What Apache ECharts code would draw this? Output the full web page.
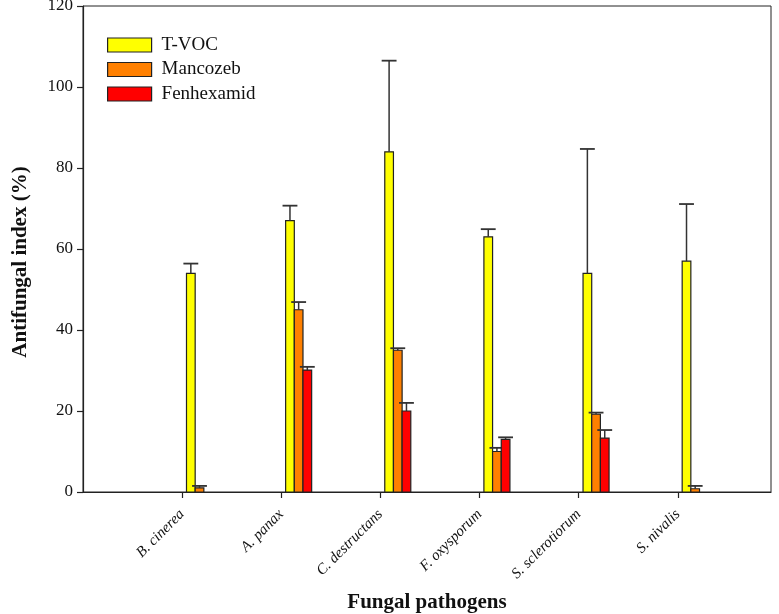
<!DOCTYPE html>
<html>
<head>
<meta charset="utf-8">
<script src="https://cdn.jsdelivr.net/npm/echarts@6/dist/echarts.min.js"></script>
<style>html,body{margin:0;padding:0;background:#fff}#c{width:779px;height:614px}</style>
</head>
<body>
<div id="c"></div>
<script>
const categories = ['B. cinerea', 'A. panax', 'C. destructans', 'F. oxysporum', 'S. sclerotiorum', 'S. nivalis'];
const seriesNames = ['T-VOC', 'Mancozeb', 'Fenhexamid'];
const tvoc = [54, 67, 84, 63, 54, 57];
const tvocErrTop = [56.4, 70.7, 106.5, 64.9, 84.7, 71.1];
const mancozeb = [1, 45, 35, 10, 19.2, 0.8];
const mancozebErrTop = [1.5, 46.9, 35.5, 10.9, 19.6, 1.5];
const fenhexamid = [0, 30.1, 20, 13, 13.3, 0];
const fenhexamidErrTop = [0, 30.9, 22, 13.5, 15.3, 0];
const yTicks = [0, 20, 40, 60, 80, 100, 120];

const colors = ['#FFFF00', '#FF8000', '#FF0000'];
const values = [tvoc, mancozeb, fenhexamid];
const errs = [tvocErrTop, mancozebErrTop, fenhexamidErrTop];
const FONT = 'Liberation Serif';
const BAR_W = 0.0875, BAR_OFF = 0.044, CAP_W = 0.15;

function makeSeries(k) {
  return {
    name: seriesNames[k],
    type: 'custom',
    itemStyle: { color: colors[k] },
    data: categories.map((c, i) => [i + 1, values[k][i], errs[k][i]]),
    renderItem: function (params, api) {
      const x = api.value(0), v = api.value(1), e = api.value(2);
      if (!v) return null;
      const left = x + BAR_OFF + k * BAR_W;
      const p0 = api.coord([left, v]);
      const p1 = api.coord([left + BAR_W, 0]);
      const mid = api.coord([left + BAR_W / 2, e]);
      const top = api.coord([left + BAR_W / 2, v]);
      const capL = api.coord([left + BAR_W / 2 - CAP_W / 2, e]);
      const capR = api.coord([left + BAR_W / 2 + CAP_W / 2, e]);
      const children = [{
        type: 'rect',
        shape: { x: p0[0], y: p0[1], width: p1[0] - p0[0], height: p1[1] - p0[1] },
        style: { fill: colors[k], stroke: '#222', lineWidth: 1.2 }
      }];
      if (e > v) {
        children.push({ type: 'line', shape: { x1: mid[0], y1: mid[1], x2: top[0], y2: top[1] }, style: { stroke: '#333', lineWidth: 1.5 } });
        children.push({ type: 'line', shape: { x1: capL[0], y1: capL[1], x2: capR[0], y2: capR[1] }, style: { stroke: '#333', lineWidth: 1.8 } });
      }
      return { type: 'group', children: children };
    }
  };
}

const chart = echarts.init(document.getElementById('c'));
chart.setOption({
  animation: false,
  backgroundColor: '#fff',
  grid: { left: 83, top: 6, right: 8, bottom: 122, show: true, borderColor: '#222', borderWidth: 1, outerBoundsMode: 'none', containLabel: false },
  legend: {
    orient: 'vertical', left: 107, top: 35.5, padding: 0, itemWidth: 44, itemHeight: 14, itemGap: 5.5,
    icon: 'rect',
    textStyle: { fontFamily: FONT, fontSize: 19, color: '#111', padding: [0, 0, 0, 5] },
    data: seriesNames.map((n, k) => ({ name: n, itemStyle: { color: colors[k], borderColor: '#222', borderWidth: 1.2 } }))
  },
  xAxis: {
    type: 'value', min: 0, max: 6.94, interval: 1,
    name: 'Fungal pathogens', nameLocation: 'middle', nameGap: 100,
    nameTextStyle: { fontFamily: FONT, fontSize: 21, fontWeight: 'bold', color: '#111' },
    splitLine: { show: false },
    axisLine: { lineStyle: { color: '#222', width: 1.2 } },
    axisTick: { show: true, length: 6, lineStyle: { color: '#222', width: 1.2 }, customValues: [1, 2, 3, 4, 5, 6] },
    axisLabel: {
      customValues: [1, 2, 3, 4, 5, 6],
      rotate: 45, margin: 20,
      fontFamily: FONT, fontSize: 15, fontStyle: 'italic', color: '#111',
      formatter: v => categories[Math.round(v) - 1] || ''
    }
  },
  yAxis: {
    type: 'value', min: 0, max: 120, interval: 20,
    name: 'Antifungal index (%)', nameLocation: 'middle', nameGap: 52,
    nameTextStyle: { fontFamily: FONT, fontSize: 21, fontWeight: 'bold', color: '#111', padding: [0, 26, 0, 0] },
    splitLine: { show: false },
    axisLine: { show: true, lineStyle: { color: '#222', width: 1.2 } },
    axisTick: { show: true, length: 6, lineStyle: { color: '#222', width: 1.2 } },
    axisLabel: { margin: 10, fontFamily: FONT, fontSize: 17, color: '#111', formatter: v => yTicks.includes(v) ? String(v) : '' }
  },
  series: [makeSeries(0), makeSeries(1), makeSeries(2)]
});
</script>
</body>
</html>
